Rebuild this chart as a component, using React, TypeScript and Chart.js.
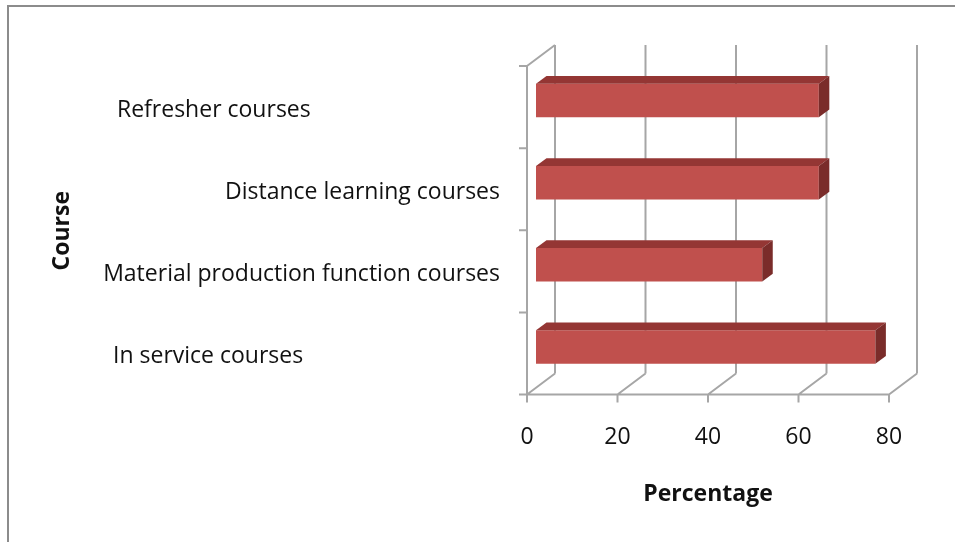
import React, { useEffect, useRef } from "react";
import { Chart, registerables } from "chart.js";

Chart.register(...registerables);

// ---- Data ----
const categories = [
  "Refresher courses",
  "Distance learning courses",
  "Material production function courses",
  "In service courses",
];
const percentages = [62.5, 62.5, 50, 75];
const xMin = 0;
const xMax = 80;
const xStep = 20;
const xTitle = "Percentage";
const yTitle = "Course";

// ---- Styling / layout ----
const FONT = "'Open Sans', Lato, sans-serif";
const FONT_SIZE = 23;
const FRONT = { dx: -9, dy: 6.5 }; // front plane relative to bar-front plane
const BACK = { dx: 19, dy: -14.5 }; // back wall relative to bar-front plane
const BAR_DEPTH = { dx: 10.5, dy: -7.7 };
// label anchors: [x, align]
const LABEL_ANCHOR: [number, CanvasTextAlign][] = [
  [117, "left"],
  [500, "right"],
  [500, "right"],
  [113, "left"],
];
const GRID_COLOR = "#a6a6a6";
const BAR_FRONT = "#C0504D";
const BAR_TOP = "#943634";
const BAR_SIDE = "#7a2c2a";

const threeD = {
  id: "threeD",
  beforeDatasetsDraw(chart: any) {
    const { ctx, chartArea } = chart;
    const xs = chart.scales.x;
    const { top, bottom } = chartArea;
    ctx.save();
    ctx.strokeStyle = GRID_COLOR;
    ctx.lineWidth = 2;
    ctx.lineCap = "butt";
    const fBottom = bottom + FRONT.dy;
    const fTop = top + FRONT.dy;
    const bBottom = bottom + BACK.dy;
    const bTop = top + BACK.dy;
    ctx.beginPath();
    xs.ticks.forEach((t: any) => {
      const px = xs.getPixelForValue(t.value);
      const xf = px + FRONT.dx;
      const xb = px + BACK.dx;
      ctx.moveTo(xb, bTop);
      ctx.lineTo(xb, bBottom);
      ctx.moveTo(xf, fBottom);
      ctx.lineTo(xb, bBottom);
      ctx.moveTo(xf, fBottom);
      ctx.lineTo(xf, fBottom + 8);
    });
    const x0f = xs.getPixelForValue(xMin) + FRONT.dx;
    const x1f = xs.getPixelForValue(xMax) + FRONT.dx;
    const x0b = xs.getPixelForValue(xMin) + BACK.dx;
    ctx.moveTo(x0f - 8, fBottom);
    ctx.lineTo(x1f, fBottom);
    ctx.moveTo(x0f, fTop);
    ctx.lineTo(x0f, fBottom);
    ctx.moveTo(x0f, fTop);
    ctx.lineTo(x0b, bTop);
    const n = categories.length;
    const band = (bottom - top) / n;
    for (let i = 0; i <= n; i++) {
      const yy = fTop + i * band;
      ctx.moveTo(x0f - 8, yy);
      ctx.lineTo(x0f, yy);
    }
    ctx.stroke();
    ctx.restore();
  },
  afterDatasetsDraw(chart: any) {
    const { ctx } = chart;
    const meta = chart.getDatasetMeta(0);
    ctx.save();
    meta.data.forEach((bar: any) => {
      const { x, y, base, height } = bar.getProps(["x", "y", "base", "height"], true);
      const t = y - height / 2;
      const b = y + height / 2;
      ctx.fillStyle = BAR_TOP;
      ctx.beginPath();
      ctx.moveTo(base, t);
      ctx.lineTo(base + BAR_DEPTH.dx, t + BAR_DEPTH.dy);
      ctx.lineTo(x + BAR_DEPTH.dx, t + BAR_DEPTH.dy);
      ctx.lineTo(x, t);
      ctx.closePath();
      ctx.fill();
      ctx.fillStyle = BAR_SIDE;
      ctx.beginPath();
      ctx.moveTo(x, t);
      ctx.lineTo(x + BAR_DEPTH.dx, t + BAR_DEPTH.dy);
      ctx.lineTo(x + BAR_DEPTH.dx, b + BAR_DEPTH.dy);
      ctx.lineTo(x, b);
      ctx.closePath();
      ctx.fill();
    });
    ctx.restore();
  },
  afterDraw(chart: any) {
    const { ctx, chartArea } = chart;
    const ys = chart.scales.y;
    const xs = chart.scales.x;
    ctx.save();
    ctx.strokeStyle = "#8c8c8c";
    ctx.lineWidth = 2;
    ctx.beginPath();
    ctx.moveTo(7, 6);
    ctx.lineTo(955, 6);
    ctx.moveTo(8, 6);
    ctx.lineTo(8, 542);
    ctx.stroke();

    ctx.fillStyle = "#111";
    ctx.font = `${FONT_SIZE}px ${FONT}`;
    ctx.textBaseline = "middle";
    categories.forEach((c, i) => {
      const yy = ys.getPixelForValue(i) + FRONT.dy + 3;
      ctx.textAlign = LABEL_ANCHOR[i][1];
      ctx.fillText(c, LABEL_ANCHOR[i][0], yy);
    });

    ctx.font = `bold ${FONT_SIZE}px ${FONT}`;
    ctx.textAlign = "center";
    const cx = (xs.getPixelForValue(xMin) + xs.getPixelForValue(xMax)) / 2 + FRONT.dx;
    ctx.fillText(xTitle, cx, 494);
    ctx.translate(62, (chartArea.top + chartArea.bottom) / 2 + 7);
    ctx.rotate(-Math.PI / 2);
    ctx.fillText(yTitle, 0, 0);
    ctx.restore();
  },
};

export default function App() {
  const ref = useRef<HTMLCanvasElement | null>(null);
  useEffect(() => {
    if (!ref.current) return;
    const chart = new Chart(ref.current, {
      type: "bar",
      data: {
        labels: categories,
        datasets: [
          {
            data: percentages,
            backgroundColor: BAR_FRONT,
            borderWidth: 0,
            barPercentage: 0.408,
            categoryPercentage: 1,
          },
        ],
      },
      options: {
        indexAxis: "y",
        animation: false,
        responsive: false,
        devicePixelRatio: 1,
        layout: { padding: { top: 59.5, right: 57, left: 0, bottom: 0 } },
        plugins: { legend: { display: false }, tooltip: { enabled: false } },
        scales: {
          x: {
            type: "linear",
            min: xMin,
            max: xMax,
            ticks: {
              stepSize: xStep,
              padding: 36,
              labelOffset: FRONT.dx,
              color: "#111",
              font: { family: FONT, size: FONT_SIZE },
            },
            grid: { display: false, drawTicks: false, tickLength: 0 },
            border: { display: false },
            afterFit: (s: any) => {
              s.height = 154;
            },
          },
          y: {
            type: "category",
            ticks: { display: false },
            grid: { display: false, drawTicks: false },
            border: { display: false },
            afterFit: (s: any) => {
              s.width = 536;
            },
          },
        },
      },
      plugins: [threeD],
    } as any);
    return () => chart.destroy();
  }, []);
  return (
    <div style={{ position: "absolute", left: 0, top: 0, width: 955, height: 542, background: "#fff" }}>
      <canvas ref={ref} width={955} height={542} style={{ display: "block" }} />
    </div>
  );
}
